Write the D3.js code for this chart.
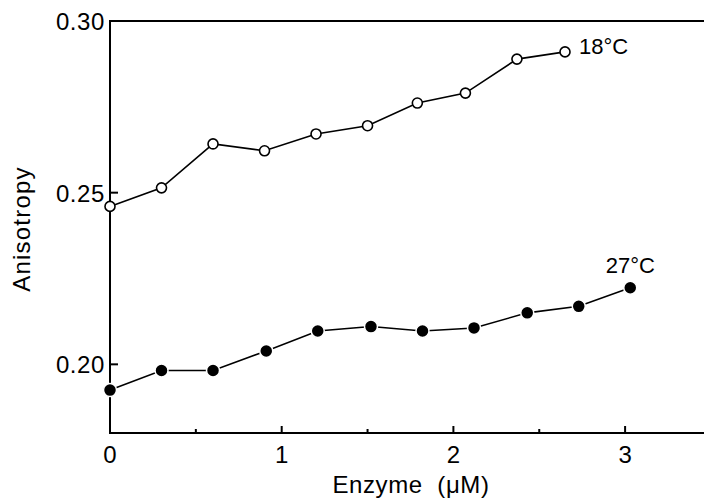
<!DOCTYPE html>
<html>
<head>
<meta charset="utf-8">
<script src="https://cdn.jsdelivr.net/npm/d3@7"></script>
<style>
  body { margin: 0; background: #fff; }
  svg text { font-family: "Liberation Sans", Arial, sans-serif; fill: #000; }
</style>
</head>
<body>
<svg id="chart" width="704" height="498"></svg>
<script>
// enzyme concentration (uM) and anisotropy
var enzyme18 = [0, 0.30, 0.60, 0.90, 1.20, 1.50, 1.79, 2.07, 2.37, 2.65];
var aniso18 = [0.2460, 0.2514, 0.2642, 0.2622, 0.2671, 0.2695, 0.2761, 0.2790, 0.2889, 0.2910];
var enzyme27 = [0, 0.30, 0.60, 0.91, 1.21, 1.52, 1.82, 2.12, 2.43, 2.73, 3.03];
var aniso27 = [0.1925, 0.1982, 0.1982, 0.2039, 0.2097, 0.2110, 0.2097, 0.2106, 0.2150, 0.2169, 0.2223];
var xTicks = [0, 1, 2, 3];
var xMinor = [0.5, 1.5, 2.5];
var yTicks = [0.20, 0.25, 0.30];

var svg = d3.select("#chart");
var plotLeft = 110, plotBottom = 433, plotTop = 21;

var x = d3.scaleLinear().domain([0, 3.5]).range([plotLeft, plotLeft + 3.5 * 171.7]);
var y = d3.scaleLinear().domain([0.18, 0.30]).range([plotBottom, plotTop]);

// frame: top, left and bottom spines (right edge runs off the page)
var frame = svg.append("g").attr("stroke", "#000").attr("stroke-width", 2);
frame.append("line").attr("x1", plotLeft).attr("x2", 704).attr("y1", y(0.30)).attr("y2", y(0.30));
frame.append("line").attr("x1", plotLeft).attr("x2", plotLeft).attr("y1", y(0.30) - 1).attr("y2", plotBottom + 1);
frame.append("line").attr("x1", plotLeft).attr("x2", 704).attr("y1", plotBottom).attr("y2", plotBottom);

// ticks point inward
frame.selectAll(".xt").data(xTicks).enter().append("line")
    .attr("x1", d => x(d)).attr("x2", d => x(d))
    .attr("y1", plotBottom).attr("y2", plotBottom - 7);
frame.selectAll(".xm").data(xMinor).enter().append("line")
    .attr("x1", d => x(d)).attr("x2", d => x(d))
    .attr("y1", plotBottom).attr("y2", plotBottom - 4);
frame.selectAll(".yt").data(yTicks).enter().append("line")
    .attr("x1", plotLeft).attr("x2", plotLeft + 8)
    .attr("y1", d => y(d)).attr("y2", d => y(d));

svg.selectAll(".xl").data(xTicks).enter().append("text")
    .attr("x", d => x(d)).attr("y", 463)
    .attr("text-anchor", "middle").attr("font-size", 24)
    .text(d => d);
svg.selectAll(".yl").data(yTicks).enter().append("text")
    .attr("x", 105).attr("y", d => y(d) + 9)
    .attr("text-anchor", "end").attr("font-size", 24)
    .attr("letter-spacing", 0.6)
    .text(d => d3.format(".2f")(d));

svg.append("text").attr("x", 411).attr("y", 493)
    .attr("text-anchor", "middle").attr("font-size", 24)
    .attr("letter-spacing", 0.6)
    .attr("xml:space", "preserve")
    .text("Enzyme  (\u03bcM)");
svg.append("text")
    .attr("transform", "translate(30,229) rotate(-90)")
    .attr("text-anchor", "middle").attr("font-size", 24)
    .attr("letter-spacing", 1.2)
    .text("Anisotropy");

var line = d3.line().x(d => x(d[0])).y(d => y(d[1]));
var s18 = d3.zip(enzyme18, aniso18);
var s27 = d3.zip(enzyme27, aniso27);

svg.append("path").datum(s18).attr("d", line)
    .attr("fill", "none").attr("stroke", "#000").attr("stroke-width", 1.6);
svg.append("path").datum(s27).attr("d", line)
    .attr("fill", "none").attr("stroke", "#000").attr("stroke-width", 1.6);

svg.selectAll(".open").data(s18).enter().append("circle")
    .attr("cx", d => x(d[0])).attr("cy", d => y(d[1])).attr("r", 5)
    .attr("fill", "#fff").attr("stroke", "#000").attr("stroke-width", 1.6);
svg.selectAll(".filled").data(s27).enter().append("circle")
    .attr("cx", d => x(d[0])).attr("cy", d => y(d[1])).attr("r", 6.5)
    .attr("fill", "#000").attr("stroke", "#fff").attr("stroke-width", 1.5);

// series labels
var last18 = s18[s18.length - 1], last27 = s27[s27.length - 1];
svg.append("text").attr("x", x(last18[0]) + 14).attr("y", y(last18[1]) + 2)
    .attr("font-size", 22).text("18\u00b0C");
svg.append("text").attr("x", x(last27[0])).attr("y", y(last27[1]) - 15)
    .attr("text-anchor", "middle").attr("font-size", 22).text("27\u00b0C");
</script>
</body>
</html>
